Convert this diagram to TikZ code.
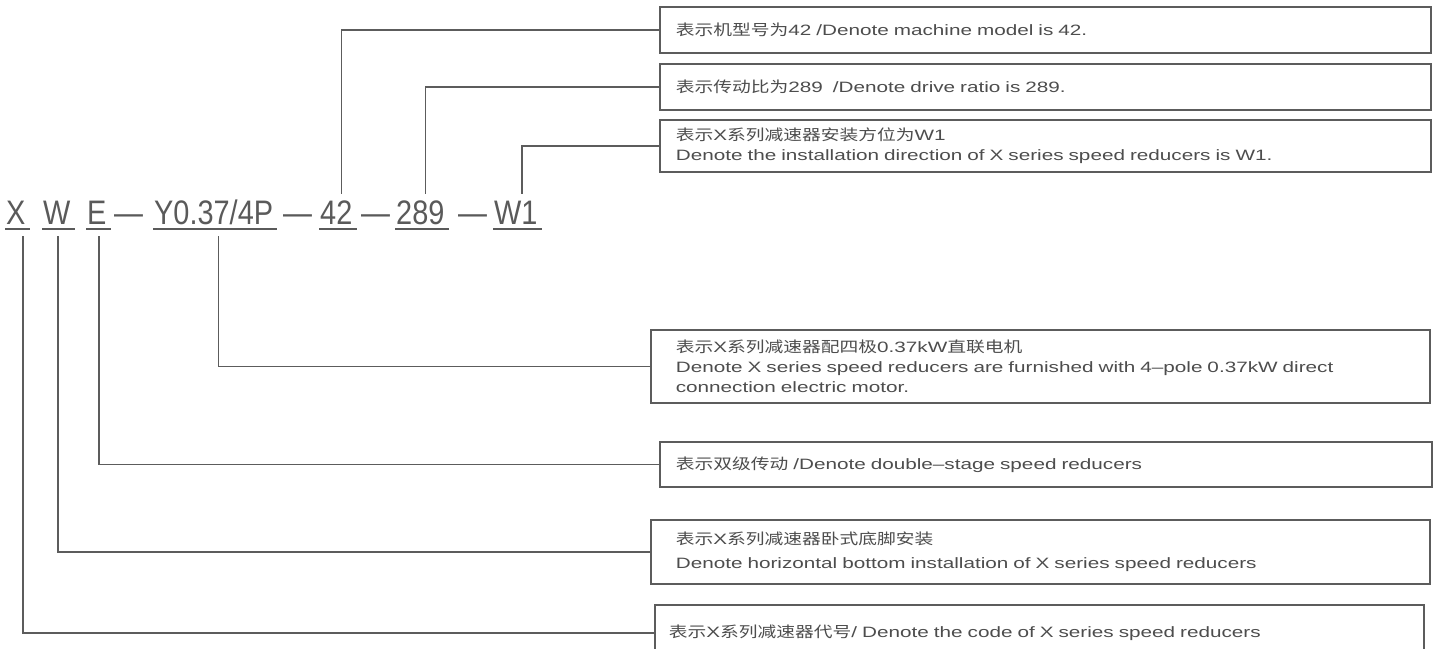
\documentclass[tikz,border=0pt]{standalone}
\usepackage{fontspec}
\setmainfont{Liberation Sans}
\newfontfamily\boxfont[FakeStretch=1.38]{Liberation Sans}
\newfontfamily\cjk[FakeStretch=1.25]{Noto Sans CJK SC}
\newfontfamily\codefont[FakeStretch=0.85]{Liberation Sans}
\newcommand\zh[1]{{\cjk #1}}
\definecolor{txtgray}{HTML}{4D4D4D}
\definecolor{linegray}{HTML}{5C5C5C}
\definecolor{codegray}{HTML}{5A5A5A}
\begin{document}
\begin{tikzpicture}[x=1pt,y=-1pt,
  box/.style={draw=linegray, line width=1.7pt, inner ysep=0pt, anchor=west, align=left,
    text=txtgray, font=\boxfont\fontsize{15}{20}\selectfont},
  code/.style={inner xsep=0pt, inner ysep=5pt, text height=25pt, text depth=0pt,
    anchor=base west, font=\codefont\fontsize{34}{34}\selectfont, text=codegray},
  uline/.style={draw=codegray, line width=1.6pt},
  conn/.style={draw=linegray, line width=1.5pt}]
\path[use as bounding box, clip] (0,0) rectangle (1437,648);
\fill[white] (0,0) rectangle (1437,648);

% code string
\node[code] (X)    at (6,224)   {X};
\node[code] (W)    at (43,224)  {W};
\node[code] (E)    at (87,224)  {E};
\node[code] (d1)   at (114,224) {—};
\node[code] (Y)    at (154,224) {Y0.37/4P};
\node[code] (d2)   at (283,224) {—};
\node[code] (n42)  at (320,224) {42};
\node[code] (d3)   at (361,224) {—};
\node[code] (n289) at (396,224) {289};
\node[code] (d4)   at (458,224) {—};
\node[code] (w1)   at (494,224) {W1};

\foreach \n in {X,W,E,Y,n42,n289,w1}
  \draw[uline] ([xshift=-1pt]\n.south west) -- ([xshift=4pt]\n.south east);

% boxes
\node[box, minimum height=46pt, inner xsep=16pt, text width=739pt] (b1) at (659,30)
  {\zh{表示机型号为}42 /Denote machine model is 42.};
\node[box, minimum height=46pt, inner xsep=16pt, text width=739pt] (b2) at (659,87)
  {\zh{表示传动比为}289~ /Denote drive ratio is 289.};
\node[box, minimum height=52pt, inner xsep=16pt, text width=739pt] (b3) at (659,146)
  {\zh{表示}X\zh{系列减速器安装方位为}W1\\Denote the installation direction of X series speed reducers is W1.};
\node[box, minimum height=73pt, inner xsep=25pt, text width=729pt] (b4) at (650,366.5)
  {\zh{表示}X\zh{系列减速器配四极}0.37kW\zh{直联电机}\\Denote X series speed reducers are furnished with 4–pole 0.37kW direct\\connection electric motor.};
\node[box, minimum height=45pt, inner xsep=16pt, text width=740pt] (b5) at (659,464.5)
  {\zh{表示双级传动} /Denote double–stage speed reducers};
\node[box, minimum height=64pt, inner xsep=25pt, text width=729pt,
  font=\boxfont\fontsize{15}{24}\selectfont] (b6) at (650,552)
  {\zh{表示}X\zh{系列减速器卧式底脚安装}\\Denote horizontal bottom installation of X series speed reducers};
\node[box, minimum height=56pt, inner xsep=14pt, text width=741pt] (b7) at (654,633)
  {\zh{表示}X\zh{系列减速器代号}/ Denote the code of X series speed reducers};

% connectors to top boxes
\draw[conn] (b1.west) -| ([xshift=5pt]n42.north);
\draw[conn] (b2.west) -| ([xshift=5pt]n289.north);
\draw[conn] (b3.west) -| ([xshift=6pt]w1.north);
% connectors to lower boxes
\draw[conn] (b4.west) -| ([xshift=5pt,yshift=-7pt]Y.south);
\draw[conn] (b5.west) -| ([xshift=2pt,yshift=-7pt]E.south);
\draw[conn] (b6.west) -| ([xshift=1pt,yshift=-7pt]W.south);
\draw[conn] (b7.west) -| ([xshift=7pt,yshift=-7pt]X.south);
\end{tikzpicture}
\end{document}
